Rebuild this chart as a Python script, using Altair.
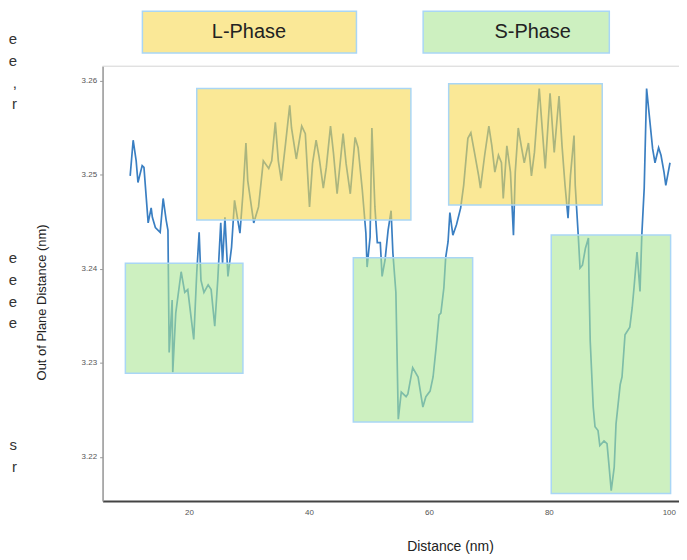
import altair as alt
import pandas as pd

# ---- data ----
distance = [10.2, 10.7, 11.2, 11.5, 12.2, 12.5, 13.2, 13.7, 13.9, 14.4, 15.2, 15.7, 16.2, 16.5, 16.7,
            17.2, 17.3, 17.8, 18.7, 19.3, 19.8, 20.8, 21.3, 21.7, 22.0, 22.5, 23.2, 23.7, 24.3, 24.8,
            25.3, 25.6, 26.0, 26.5, 27.1, 27.6, 28.5, 29.0, 29.5, 29.8, 30.8, 31.6, 32.4, 33.3, 33.8,
            34.4, 34.9, 35.4, 36.1, 36.8, 37.1, 37.9, 38.8, 39.4, 40.1, 40.6, 41.2, 41.7, 42.4, 42.9,
            43.6, 44.1, 44.7, 45.7, 46.2, 46.9, 47.7, 48.2, 48.9, 49.5, 49.7, 50.2, 50.5, 51.0, 51.4,
            51.9, 52.2, 52.7, 53.2, 53.7, 54.0, 54.5, 54.9, 55.4, 56.2, 56.5, 57.3, 58.2, 59.0, 59.5,
            60.2, 60.7, 61.2, 61.7, 62.0, 62.5, 62.8, 63.2, 63.5, 64.0, 64.6, 65.3, 65.8, 66.5, 67.0,
            67.6, 68.3, 68.6, 69.3, 70.0, 70.5, 71.0, 71.6, 72.1, 72.4, 73.0, 73.6, 74.1, 74.4, 74.9,
            75.4, 75.9, 76.6, 77.1, 77.6, 78.4, 78.9, 79.4, 80.2, 80.9, 81.7, 82.2, 82.7, 83.2, 83.6,
            84.2, 84.4, 84.9, 85.2, 85.6, 86.1, 86.6, 86.7, 86.9, 87.4, 87.7, 88.2, 88.5, 89.2, 89.7,
            90.0, 90.4, 90.9, 91.2, 91.9, 92.2, 92.7, 93.5, 93.9, 94.2, 94.7, 95.2, 95.5, 95.9, 96.3,
            96.8, 97.3, 97.7, 98.3, 98.7, 99.2, 99.5, 100.2]
out_of_plane = [3.2499, 3.2537, 3.2515, 3.2492, 3.2510, 3.2508, 3.2449, 3.2465, 3.2455, 3.2444,
                3.2439, 3.2475, 3.2452, 3.2441, 3.2311, 3.2367, 3.2290, 3.2353, 3.2397, 3.2375,
                3.2378, 3.2325, 3.2396, 3.2439, 3.2388, 3.2375, 3.2383, 3.2378, 3.2339, 3.2388,
                3.2449, 3.2406, 3.2455, 3.2392, 3.2423, 3.2473, 3.2438, 3.2480, 3.2534, 3.2494,
                3.2449, 3.2466, 3.2515, 3.2507, 3.2515, 3.2556, 3.2515, 3.2494, 3.2533, 3.2574,
                3.2550, 3.2517, 3.2552, 3.2544, 3.2466, 3.2512, 3.2537, 3.2519, 3.2486, 3.2508,
                3.2552, 3.2523, 3.2480, 3.2544, 3.2512, 3.2480, 3.2540, 3.2529, 3.2484, 3.2438,
                3.2402, 3.2434, 3.2550, 3.2466, 3.2428, 3.2428, 3.2392, 3.2410, 3.2441, 3.2462,
                3.2417, 3.2375, 3.2240, 3.2269, 3.2264, 3.2267, 3.2295, 3.2285, 3.2253, 3.2264,
                3.2270, 3.2285, 3.2316, 3.2351, 3.2353, 3.2380, 3.2412, 3.2429, 3.2460, 3.2436,
                3.2447, 3.2465, 3.2489, 3.2539, 3.2545, 3.2524, 3.2499, 3.2486, 3.2521, 3.2552,
                3.2531, 3.2503, 3.2521, 3.2513, 3.2475, 3.2531, 3.2503, 3.2436, 3.2503, 3.2550,
                3.2531, 3.2513, 3.2534, 3.2499, 3.2524, 3.2592, 3.2549, 3.2507, 3.2587, 3.2524,
                3.2584, 3.2531, 3.2489, 3.2454, 3.2499, 3.2542, 3.2489, 3.2436, 3.2401, 3.2404,
                3.2422, 3.2433, 3.2386, 3.2323, 3.2253, 3.2232, 3.2228, 3.2212, 3.2217, 3.2214,
                3.2193, 3.2164, 3.2189, 3.2235, 3.2277, 3.2285, 3.2330, 3.2338, 3.2359, 3.2380,
                3.2418, 3.2376, 3.2436, 3.2486, 3.2592, 3.2560, 3.2528, 3.2513, 3.2529, 3.2521,
                3.2503, 3.2489, 3.2513]

region_phase = ["L-Phase", "L-Phase", "S-Phase", "S-Phase", "S-Phase"]
region_x_start = [21.3, 63.3, 9.4, 47.4, 80.4]
region_x_end = [57.0, 88.9, 29.0, 67.3, 100.3]
region_y_low = [3.2452, 3.2468, 3.2289, 3.2237, 3.2161]
region_y_high = [3.2592, 3.2597, 3.2406, 3.2412, 3.2436]

legend_labels = ["L-Phase", "S-Phase"]
x_ticks = [20, 40, 60, 80, 100]
y_ticks = [3.22, 3.23, 3.24, 3.25, 3.26]

# stray letters of neighbouring text at the left edge of the picture
side_letters = ["e", "e", ",", "r", "e", "e", "e", "e", "s", "r"]

# ---- styling / layout ----
YELLOW_SOLID = "#FAE897"
GREEN_SOLID = "#CDF0C0"
YELLOW_TINT = "#F7D950"   # drawn at 0.6 opacity over the line
GREEN_TINT = "#ACE696"
EDGE = "#A9D6F5"
LINE = "#3A7FC2"
FONT = "Liberation Sans"

W, H = 579, 437
x_scale = alt.Scale(domain=[5.6, 101.7], nice=False, zero=False)
y_scale = alt.Scale(domain=[3.2153, 3.2616], nice=False, zero=False)

line_df = pd.DataFrame({"d": distance, "z": out_of_plane})
rect_df = pd.DataFrame({"phase": region_phase, "x1": region_x_start, "x2": region_x_end,
                        "y1": region_y_low, "y2": region_y_high})

line = alt.Chart(line_df).mark_line(color=LINE, strokeWidth=1.7).encode(
    x=alt.X("d:Q", scale=x_scale,
            axis=alt.Axis(values=x_ticks, format="d", title="Distance (nm)", grid=False,
                          domainColor="#444", domainWidth=2, ticks=False,
                          labelFontSize=8, labelColor="#555", labelPadding=8, labelFont=FONT,
                          titleFont=FONT, titleFontSize=14, titleFontWeight="normal",
                          titleColor="#222", titleX=349, titleY=46, titleBaseline="middle")),
    y=alt.Y("z:Q", scale=y_scale,
            axis=alt.Axis(values=y_ticks, format=".2f", title="Out of Plane Distance (nm)",
                          grid=False, domainColor="#999", domainWidth=1.5, tickColor="#999",
                          tickSize=3, labelFontSize=8, labelColor="#555", labelPadding=3,
                          labelFont=FONT, titleFont=FONT, titleFontSize=13,
                          titleFontWeight="normal", titleColor="#222", titleX=-61, titleY=237,
                          titleAngle=-90, titleBaseline="middle", titleAlign="center")),
)

rects = alt.Chart(rect_df).mark_rect(fillOpacity=0.6, stroke=EDGE, strokeWidth=1.5,
                                     strokeOpacity=1).encode(
    x=alt.X("x1:Q", scale=x_scale),
    x2="x2:Q",
    y=alt.Y("y1:Q", scale=y_scale),
    y2="y2:Q",
    color=alt.Color("phase:N",
                    scale=alt.Scale(domain=legend_labels, range=[YELLOW_TINT, GREEN_TINT]),
                    legend=None),
)

top_rule = alt.Chart(pd.DataFrame({"a": [0]})).mark_rule(color="#e6e6e6", strokeWidth=1).encode(
    x=alt.value(0), x2=alt.value(W), y=alt.value(0))

# legend boxes above the plot (pixel layout)
leg_df = pd.DataFrame({"label": legend_labels,
                       "px1": [40, 322], "px2": [255, 509],
                       "py1": [-55, -55], "py2": [-13, -13],
                       "tx": [147, 432], "ty": [-34, -34]})
leg_boxes = alt.Chart(leg_df).mark_rect(stroke=EDGE, strokeWidth=1.5).encode(
    x=alt.X("px1:Q", scale=None), x2="px2:Q",
    y=alt.Y("py1:Q", scale=None), y2="py2:Q",
    fill=alt.Fill("label:N",
                  scale=alt.Scale(domain=legend_labels, range=[YELLOW_SOLID, GREEN_SOLID]),
                  legend=None),
)
leg_text = alt.Chart(leg_df).mark_text(font=FONT, fontSize=20, color="#222",
                                       align="center", baseline="middle").encode(
    x=alt.X("tx:Q", scale=None), y=alt.Y("ty:Q", scale=None), text="label:N")

side_df = pd.DataFrame({"t": side_letters,
                        "py": [-27, -5, 17, 38, 193, 215, 237, 258, 381, 403]})
side = alt.Chart(side_df).mark_text(font=FONT, fontSize=15, color="#333", align="right",
                                    baseline="middle").encode(
    x=alt.value(-86), y=alt.Y("py:Q", scale=None), text="t:N")

chart = alt.layer(top_rule, line, rects, leg_boxes, leg_text, side).resolve_scale(
    color="independent", fill="independent"
).properties(
    width=W, height=H,
    autosize=alt.AutoSizeParams(type="none"),
    padding={"left": 95, "top": 57, "right": 0, "bottom": 56},
).configure_view(stroke=None).configure(background="white")

chart.save("out.html", embed_options={"renderer": "svg", "actions": False})
